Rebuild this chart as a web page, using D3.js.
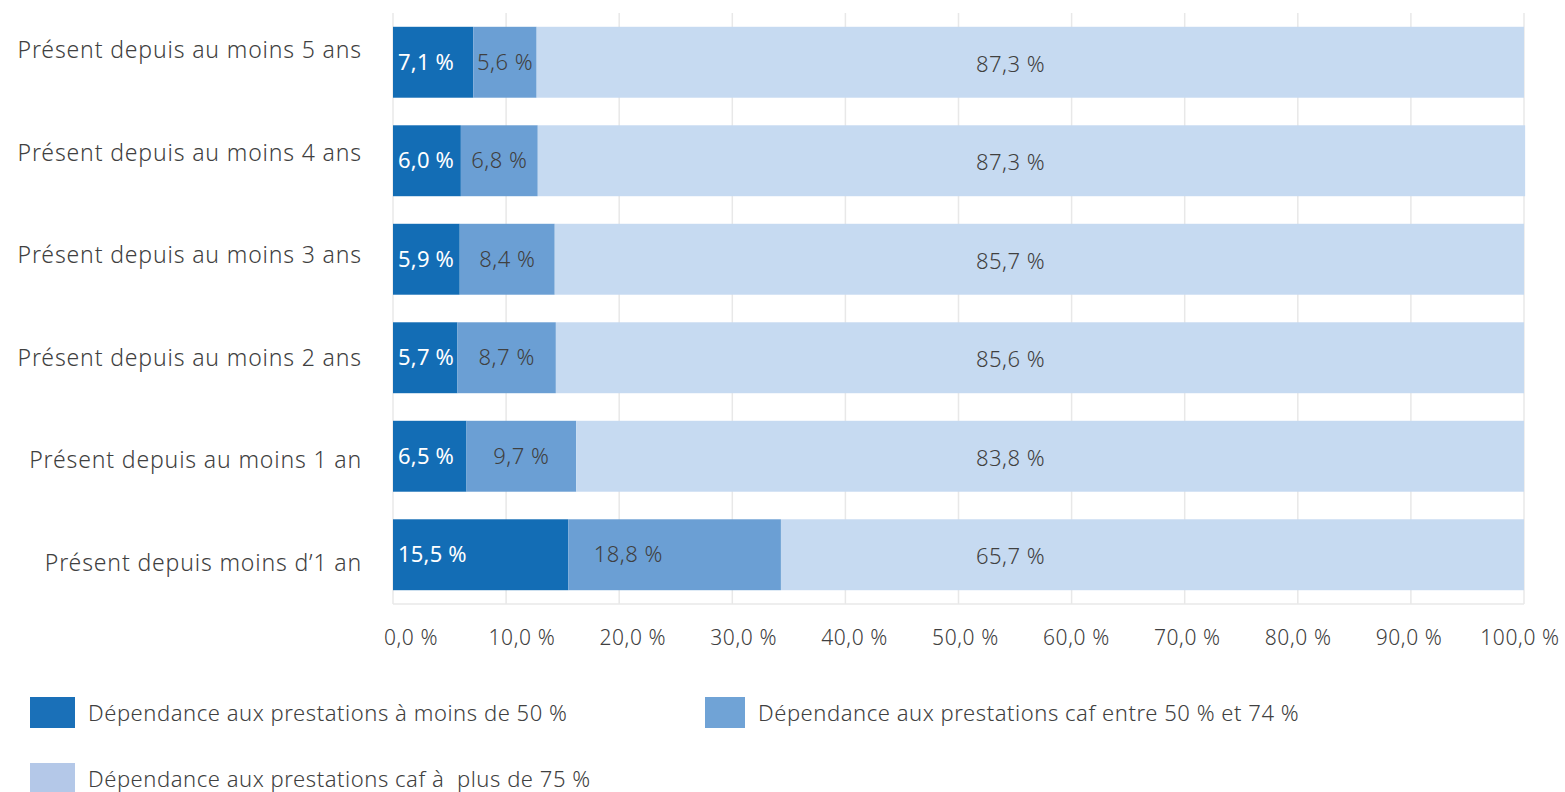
<!DOCTYPE html>
<html>
<head>
<meta charset="utf-8">
<script src="https://cdn.jsdelivr.net/npm/d3@7"></script>
<style>
  body { margin: 0; background: #fff; }
  svg { font-family: "Noto Sans", Lato, sans-serif; font-weight: 300; }
</style>
</head>
<body>
<div class="container"></div>
<script>
// data
const categories = [
  "Présent depuis au moins 5 ans",
  "Présent depuis au moins 4 ans",
  "Présent depuis au moins 3 ans",
  "Présent depuis au moins 2 ans",
  "Présent depuis au moins 1 an",
  "Présent depuis moins d’1 an"
];
const below50 = [7.1, 6.0, 5.9, 5.7, 6.5, 15.5];
const between50and74 = [5.6, 6.8, 8.4, 8.7, 9.7, 18.8];
const above75 = [87.3, 87.3, 85.7, 85.6, 83.8, 65.7];
const seriesNames = [
  "Dépendance aux prestations à moins de 50 %",
  "Dépendance aux prestations caf entre 50 % et 74 %",
  "Dépendance aux prestations caf à  plus de 75 %"
];
const tickValues = [0, 10, 20, 30, 40, 50, 60, 70, 80, 90, 100];

// svg dimensions
const width = 1565;
const height = 792;
const margin = { left: 393, right: 41, top: 13, bottom: 188 };

const colors = ["#136db5", "#6b9fd4", "#c6daf1"];
const legendColors = ["#1a70b8", "#70a3d6", "#b4c8e8"];
const fmt = v => d3.format(".1f")(v).replace(".", ",") + " %";

const svg = d3.select('.container')
  .append('svg')
  .attr('width', width)
  .attr('height', height);

const xScale = d3.scaleLinear().domain([0, 100]).range([margin.left, width - margin.right]);
const yScale = d3.scaleBand().domain(categories)
  .range([margin.top, height - margin.bottom])
  .paddingInner(0.28).paddingOuter(0.14);
// the labels in the original drift a little from the bars
const labelY = d3.scalePoint().domain(categories).range([50, 563]);
const tickX = d3.scaleLinear().domain([0, 100]).range([411, 1520]);

// gridlines
svg.append('g')
  .selectAll('line')
  .data(tickValues)
  .enter()
  .append('line')
  .attr('x1', d => xScale(d))
  .attr('x2', d => xScale(d))
  .attr('y1', margin.top)
  .attr('y2', height - margin.bottom)
  .attr('stroke', '#e8e8e8')
  .attr('stroke-width', 1.5);

// bottom baseline
svg.append('line')
  .attr('x1', xScale(0))
  .attr('x2', xScale(100))
  .attr('y1', height - margin.bottom)
  .attr('y2', height - margin.bottom)
  .attr('stroke', '#e8e8e8')
  .attr('stroke-width', 1.5);

// stacked rows
const rows = categories.map((c, i) => ({ cat: c, vals: [below50[i], between50and74[i], above75[i]] }));
const stack = d3.stack().keys([0, 1, 2]).value((d, k) => d.vals[k]);
const layers = stack(rows);

layers.forEach((layer, k) => {
  svg.append('g')
    .selectAll('rect')
    .data(layer)
    .enter()
    .append('rect')
    .attr('x', d => xScale(d[0]))
    .attr('width', d => xScale(d[1]) - xScale(d[0]))
    .attr('y', d => yScale(d.data.cat))
    .attr('height', yScale.bandwidth())
    .attr('fill', colors[k]);
});

// value labels
const labels = svg.append('g').attr('font-size', 22).attr('letter-spacing', 0.5);
// dark segment : near the left edge
labels.selectAll('.lab0')
  .data(layers[0])
  .enter()
  .append('text')
  .attr('x', d => xScale(d[0]) + 5)
  .attr('y', d => yScale(d.data.cat) + yScale.bandwidth() / 2)
  .attr('dy', '0.35em')
  .attr('fill', '#fff')
  .attr('font-weight', 400)
  .attr('letter-spacing', 0.2)
  .text(d => fmt(d.data.vals[0]));
// middle segment
labels.selectAll('.lab1')
  .data(layers[1])
  .enter()
  .append('text')
  .attr('x', d => Math.min((xScale(d[0]) + xScale(d[1])) / 2, xScale(d[0]) + 60))
  .attr('y', d => yScale(d.data.cat) + yScale.bandwidth() / 2)
  .attr('dy', '0.35em')
  .attr('text-anchor', 'middle')
  .attr('fill', '#404040')
  .text(d => fmt(d.data.vals[1]));
// light segment : all aligned in one column
labels.selectAll('.lab2')
  .data(layers[2])
  .enter()
  .append('text')
  .attr('x', xScale(54.6))
  .attr('y', d => yScale(d.data.cat) + yScale.bandwidth() / 2 + 2)
  .attr('dy', '0.35em')
  .attr('text-anchor', 'middle')
  .attr('fill', '#404040')
  .text(d => fmt(d.data.vals[2]));

// category labels
svg.append('g')
  .selectAll('text')
  .data(categories)
  .enter()
  .append('text')
  .attr('x', margin.left - 31)
  .attr('y', d => labelY(d))
  .attr('dy', '0.35em')
  .attr('text-anchor', 'end')
  .attr('font-size', 23)
  .attr('letter-spacing', 0.85)
  .attr('fill', '#404040')
  .text(d => d);

// x tick labels
svg.append('g')
  .selectAll('text')
  .data(tickValues)
  .enter()
  .append('text')
  .attr('x', d => tickX(d))
  .attr('y', 638)
  .attr('dy', '0.35em')
  .attr('text-anchor', 'middle')
  .attr('font-size', 21)
  .attr('letter-spacing', 0.6)
  .attr('fill', '#404040')
  .text(d => fmt(d));

// legend
const legendPos = [[30, 697, 45], [705, 697, 40], [30, 763, 45]];
const legend = svg.append('g').attr('id', 'legend');
seriesNames.forEach((name, k) => {
  legend.append('rect')
    .attr('x', legendPos[k][0])
    .attr('y', legendPos[k][1])
    .attr('width', legendPos[k][2])
    .attr('height', 31)
    .attr('fill', legendColors[k]);
  legend.append('text')
    .attr('x', legendPos[k][0] + legendPos[k][2] + 13)
    .attr('y', legendPos[k][1] + 16)
    .attr('dy', '0.35em')
    .attr('font-size', 22)
    .attr('letter-spacing', 0.55)
    .style('white-space', 'pre')
    .attr('fill', '#404040')
    .text(name);
});
</script>
</body>
</html>
